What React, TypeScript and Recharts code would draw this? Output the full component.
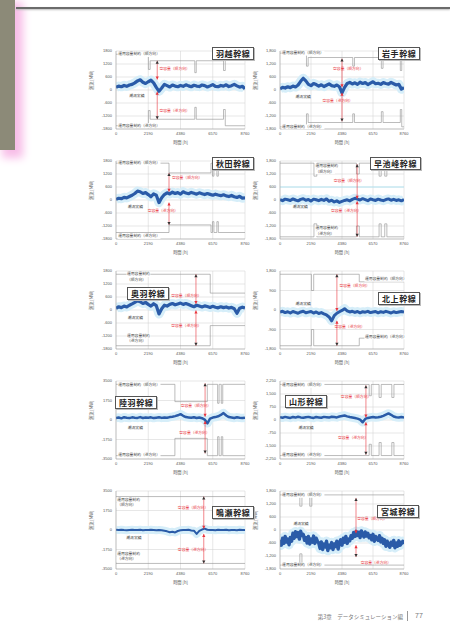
import React from 'react';
import {
  ComposedChart,
  Line,
  XAxis,
  YAxis,
  CartesianGrid,
  ReferenceLine,
  ReferenceDot,
} from 'recharts';

// Flow values are evenly spaced samples across the 8760 h year
const YEAR_HOURS = 8760;
const X_TICKS = [0, 2190, 4380, 6570, 8760];

const TICKS_1800 = [-1800, -1200, -600, 0, 600, 1200, 1800];
const TICKS_1800_WIDE = [-1800, -900, 0, 900, 1800];
const TICKS_3500 = [-3500, -1750, 0, 1750, 3500];
const TICKS_2250 = [-2250, -1500, -750, 0, 750, 1500, 2250];

const LINE_NAMES = [
  '羽越幹線',
  '岩手幹線',
  '秋田幹線',
  '早池峰幹線',
  '奥羽幹線',
  '北上幹線',
  '陸羽幹線',
  '山形幹線',
  '鳴瀬幹線',
  '宮城幹線',
];

// Power flow [MW]
const FLOW_1 = [120, 180, 150, 210, 170, 230, 260, 330, 420, 470, 360, 300, 380, 450, 330, 120, -60, 90, 260, 200, 140, 230, 180, 150, 210, 170, 240, 190, 150, 220, 180, 160, 230, 200, 140, 190, 250, 170, 150, 210, 180, 240, 160, 200, 260, 190, 130, 170, 60];
const FLOW_2 = [60, 120, 90, 150, 110, 180, 140, 230, 400, 540, 420, 260, 200, 300, 250, 180, 240, 160, 220, 280, 200, 170, 230, 150, -130, 120, 300, 350, 280, 330, 260, 360, 300, 340, 250, 320, 380, 290, 310, 260, 340, 300, 270, 350, 290, 230, 260, 40, 110];
const FLOW_3 = [30, 80, 60, 120, 100, 160, 220, 300, 410, 380, 300, 340, 250, 150, 280, 220, -120, 100, 250, 330, 280, 360, 300, 340, 270, 380, 320, 290, 350, 310, 270, 330, 290, 250, 300, 260, 220, 270, 230, 200, 240, 190, 160, 210, 150, 120, 170, 90, 100];
const FLOW_4 = [20, -30, 40, 10, -20, 50, 0, -40, 30, 60, -10, 20, -50, 40, 10, -30, 30, -20, 50, -60, -10, -90, -40, -110, -60, -20, 10, -40, 30, 80, 40, 0, 60, 20, -30, 50, 10, -20, 40, 0, -30, 20, 50, -10, 30, -20, 10, -40, 20];
const FLOW_5 = [80, 150, 110, 180, 140, 220, 280, 350, 430, 380, 300, 350, 260, 180, 290, 200, -180, 60, 220, 180, 260, 300, 240, 280, 320, 260, 300, 250, 200, 150, 220, 180, 140, 190, 160, 120, 170, 130, 100, 150, 110, 140, 90, 120, 60, -150, 80, 130, 90];
const FLOW_6 = [-90, -60, -120, -80, -140, -70, -110, -150, -90, -60, -130, -100, -70, -140, -90, -160, -120, -180, -230, -320, -500, -260, -150, -80, -20, 60, -40, -90, -60, -110, -70, -130, -80, -100, -60, -120, -90, -70, -130, -80, -110, -60, -100, -140, -80, -120, -90, -70, -100];
const FLOW_7 = [180, 220, 150, 250, 200, 170, 240, 210, 190, 260, 180, 220, 200, 240, 170, 210, 250, 190, 230, 200, 260, 300, 350, 420, 520, 380, 260, 230, 200, 250, 180, 220, 160, 40, -300, 120, 220, 260, 330, 450, 620, 400, 260, 220, 180, 240, 200, 170, 210];
const FLOW_8 = [160, 130, 180, 150, 120, 170, 140, 190, 150, 130, 160, 180, 140, 120, 170, 150, 130, 180, 160, 140, 190, 170, 150, 200, 230, 260, 210, 170, 140, 110, 80, 20, -130, 60, 120, 150, 170, 140, 160, 190, 240, 310, 380, 300, 200, 160, 140, 170, 150];
const FLOW_9 = [20, -10, 30, 0, -20, 10, 30, -10, 0, 20, -20, 10, -10, 20, 0, -30, 10, -20, -60, -120, -200, -160, -220, -90, -20, 10, -10, 20, -40, -60, -350, -80, 40, 120, 20, -10, 10, -20, 20, 0, -10, 30, -20, 10, 0, -20, 20, -10, 10];
const FLOW_10 = [
  -450, -700, -380, -620, -300, -560, -420, -680, -350, -520,
  -150, -380, -80, -300, -120, -420, -60, -260, -200, -480,
  -350, -600, -300, -650, -420, -560, -280, -620, -380, -520,
  -600, -850, -550, -900, -650, -780, -520, -950, -700, -820,
  -580, -900, -640, -760, -520, -880, -600, -450, -700, -380,
  -560, -300, -620, -420, -500, -260, -380, -120, -300, -60,
  -250, -100, -350, -40, -200, -320, -90, -280, -150, -360,
  -250, -450, -200, -520, -300, -400, -480, -260, -550, -380,
  -620, -450, -750, -520, -680, -800, -560, -700, -480, -820,
  -600, -750, -500, -700, -620, -520, -650,
];

// Operating capacity limits as [hour, MW] steps (forward / reverse)
const UPPER_1 = [[0, 1650], [2200, 950], [2320, 1350], [5350, 800], [5450, 1350], [7300, 900], [7420, 1650], [8760, 1650]];
const LOWER_1 = [[0, -1650], [2200, -950], [2320, -1350], [5350, -800], [5450, -1350], [7300, -900], [7420, -1650], [8760, -1650]];
const UPPER_2 = [[0, 1700], [1870, 1100], [1990, 1500], [5140, 1100], [5260, 1500], [7160, 1000], [7280, 1500], [8500, 900], [8600, 1700], [8760, 1700]];
const LOWER_2 = [[0, -1700], [1870, -1100], [1990, -1500], [5140, -1100], [5260, -1500], [7160, -1000], [7280, -1500], [8500, -900], [8600, -1700], [8760, -1700]];
const UPPER_3 = [[0, 1700], [3600, 1250], [6450, 1700], [6550, 1100], [6650, 1700], [6850, 1100], [6950, 1700], [8760, 1700]];
const LOWER_3 = [[0, -1500], [3600, -1150], [6450, -1500], [6550, -1000], [6650, -1500], [6850, -1000], [6950, -1500], [8760, -1500]];
const UPPER_4 = [[0, 1700], [2400, 1100], [2600, 1700], [5400, 1200], [5600, 1700], [7000, 1100], [7150, 1700], [7400, 1100], [7550, 1700], [8760, 1700]];
const LOWER_4 = [[0, -1700], [2400, -1100], [2600, -1700], [5400, -1200], [5600, -1700], [7000, -1100], [7150, -1700], [7400, -1100], [7550, -1700], [8760, -1700]];
const UPPER_5 = [[0, 1650], [6400, 780], [8760, 780]];
const LOWER_5 = [[0, -1650], [6400, -720], [8760, -720]];
const UPPER_6 = [[0, 1650], [2220, 900], [2380, 1650], [5600, 1300], [8760, 1300]];
const LOWER_6 = [[0, -1650], [2220, -900], [2380, -1650], [5600, -1300], [8760, -1300]];
const UPPER_7 = [[0, 3200], [4000, 1650], [6200, 3200], [6900, 1500], [7000, 3200], [7150, 1500], [7250, 3200], [8760, 3200]];
const LOWER_7 = [[0, -3200], [4000, -1650], [6200, -3200], [6900, -1500], [7000, -3200], [7150, -1500], [7250, -3200], [8760, -3200]];
const UPPER_8 = [[0, 2050], [6300, 1400], [6450, 2050], [7000, 1300], [7150, 2050], [7900, 1300], [8050, 2050], [8760, 2050]];
const LOWER_8 = [[0, -2050], [6300, -1400], [6450, -2050], [7000, -1300], [7150, -2050], [7900, -1300], [8050, -2050], [8760, -2050]];
const UPPER_9 = [[0, 3000], [8760, 3000]];
const LOWER_9 = [[0, -3000], [8760, -3000]];
const UPPER_10 = [[0, 1620], [1400, 1100], [1550, 1620], [2100, 1100], [2250, 1620], [8760, 1620]];
const LOWER_10 = [[0, -1620], [1400, -1100], [1550, -1620], [8760, -1620]];

// Free-capacity arrows: [hour, flow top, limit top, flow bottom, limit bottom]
const MARGIN_ARROWS = [
  [2800, 480, 1350, -80, -1350],
  [4380, 130, 1450, -130, -1450],
  [3600, 380, 1250, -120, -1150],
  [5450, 60, 1650, -60, -1700],
  [5430, 280, 1650, -20, -1650],
  [4020, -50, 1650, -500, -1650],
  [6050, 300, 3300, -100, -3000],
  [6070, 150, 2000, -130, -2000],
  [5960, 120, 3000, -350, -3000],
  [5370, -150, 1480, -700, -1250],
];

const FLOWS = [FLOW_1, FLOW_2, FLOW_3, FLOW_4, FLOW_5, FLOW_6, FLOW_7, FLOW_8, FLOW_9, FLOW_10];
const UPPERS = [UPPER_1, UPPER_2, UPPER_3, UPPER_4, UPPER_5, UPPER_6, UPPER_7, UPPER_8, UPPER_9, UPPER_10];
const LOWERS = [LOWER_1, LOWER_2, LOWER_3, LOWER_4, LOWER_5, LOWER_6, LOWER_7, LOWER_8, LOWER_9, LOWER_10];
const Y_TICKS = [TICKS_1800, TICKS_1800, TICKS_1800, TICKS_1800, TICKS_1800, TICKS_1800_WIDE, TICKS_3500, TICKS_2250, TICKS_3500, TICKS_1800];

const TXT_CAP_UP = '運用容量制約（順方向）';
const TXT_CAP_DOWN = '運用容量制約（逆方向）';
const TXT_CAP = '運用容量制約';
const TXT_DIR_UP = '（順方向）';
const TXT_DIR_DOWN = '（逆方向）';
const TXT_FREE_UP = '空容量（順方向）';
const TXT_FREE_DOWN = '空容量（逆方向）';
const TXT_FLOW = '潮流実績';
const X_TITLE = '時間 [h]';
const Y_TITLE = '潮流 [MW]';

// Page layout of each panel and where its annotations sit (data coordinates)
type Note = { up: number[]; down: number[]; flow: number[]; freeUp: number[]; freeDown: number[]; split?: boolean };
const LEFT_COL = { left: 86, width: 167 };
const RIGHT_COL = { left: 250, width: 162 };
const ROW_TOPS = [47, 157, 267, 377, 487];
const PANEL_H = 100;

const LAYOUT = [
  { col: LEFT_COL, row: 0, title: [212, 47], flowW: 3.2, commas: false },
  { col: RIGHT_COL, row: 0, title: [378, 47], flowW: 3.2, commas: true },
  { col: LEFT_COL, row: 1, title: [212, 157], flowW: 3.2, commas: false },
  { col: RIGHT_COL, row: 1, title: [370, 157], flowW: 3, commas: true },
  { col: LEFT_COL, row: 2, title: [127, 287], flowW: 3.2, commas: false },
  { col: RIGHT_COL, row: 2, title: [378, 292], flowW: 3, commas: true },
  { col: LEFT_COL, row: 3, title: [115, 396], flowW: 2.5, commas: false },
  { col: RIGHT_COL, row: 3, title: [285, 395], flowW: 2.5, commas: true },
  { col: LEFT_COL, row: 4, title: [212, 506], flowW: 2, commas: false },
  { col: RIGHT_COL, row: 4, title: [377, 505], flowW: 3.4, commas: true },
];

const NOTES: Note[] = [
  { up: [150, 1640], down: [150, -1640], flow: [900, -260], freeUp: [2950, 950], freeDown: [2950, -950] },
  { up: [150, 1700], down: [150, -1700], flow: [1100, -300], freeUp: [3750, 980], freeDown: [3000, -520] },
  { up: [150, 1700], down: [150, -1680], flow: [800, -300], freeUp: [3800, 1000], freeDown: [2150, -520] },
  { up: [2500, 1560], down: [2500, -1300], flow: [900, -300], freeUp: [3800, 870], freeDown: [3600, -520], split: true },
  { up: [750, 1640], down: [750, -1200], flow: [800, -360], freeUp: [3750, 650], freeDown: [3750, -720], split: true },
  { up: [6000, 1420], down: [6000, -1240], flow: [1100, 280], freeUp: [4200, 1100], freeDown: [3850, -800] },
  { up: [150, 3150], down: [150, -3150], flow: [800, -750], freeUp: [4400, 1250], freeDown: [4300, -1200] },
  { up: [150, 2000], down: [150, -2000], flow: [1300, -450], freeUp: [4300, 1300], freeDown: [4100, -1050] },
  { up: [80, 2700], down: [80, -2150], flow: [700, -700], freeUp: [4200, 1950], freeDown: [4200, -1750], split: true },
  { up: [150, 1600], down: [150, -1620], flow: [950, 300], freeUp: [5450, 500], freeDown: [5700, -1500] },
];

const FONT = '"Noto Sans CJK JP", "Noto Sans", sans-serif';

const textShape = (text: string, color: string, size = 3.8, boxed = false) => (p: any) => (
  <g>
    {boxed && (
      <rect x={p.cx - 0.5} y={p.cy - size * 0.65} width={text.length * size + 1} height={size * 1.3} fill="#fff" />
    )}
    <text x={p.cx} y={p.cy} fontSize={size} fill={color} dominantBaseline="middle" fontFamily={FONT}>
      {text}
    </text>
  </g>
);

const arrowHead = (dir: 'up' | 'down', color: string) => (p: any) => {
  const s = dir === 'up' ? -1 : 1;
  return <path d={`M${p.cx},${p.cy} L${p.cx - 1.6},${p.cy - s * 3} L${p.cx + 1.6},${p.cy - s * 3} Z`} fill={color} />;
};

function Panel({ idx }: { idx: number }) {
  const lay = LAYOUT[idx];
  const note = NOTES[idx];
  const ticks = Y_TICKS[idx];
  const yMin = ticks[0];
  const yMax = ticks[ticks.length - 1];
  const series = FLOWS[idx];
  const flowData = series.map((v, i) => ({ h: (i * YEAR_HOURS) / (series.length - 1), v }));
  const upper = UPPERS[idx].map(([h, v]) => ({ h, v }));
  const lower = LOWERS[idx].map(([h, v]) => ({ h, v }));
  const [ah, ft, ct, fb, cb] = MARGIN_ARROWS[idx];
  const fmt = (v: number) => (lay.commas ? v.toLocaleString('en-US') : String(v));
  const tickStyle = { fontSize: 4, fill: '#555', fontFamily: 'Liberation Sans, Arial, sans-serif' };
  const red = '#e8343c';

  return (
    <div style={{ position: 'absolute', left: lay.col.left, top: ROW_TOPS[lay.row], width: lay.col.width, height: PANEL_H }}>
      <ComposedChart width={lay.col.width} height={PANEL_H} margin={{ top: 4, right: 8, bottom: 0, left: 2 }}>
        <CartesianGrid stroke="#cfcfcf" strokeWidth={0.5} />
        <XAxis
          type="number"
          dataKey="h"
          domain={[0, YEAR_HOURS]}
          ticks={X_TICKS}
          interval={0}
          allowDataOverflow
          height={18}
          tickSize={2}
          tickMargin={1}
          tickLine={false}
          axisLine={{ stroke: '#999', strokeWidth: 0.5 }}
          tick={tickStyle}
          label={{ value: X_TITLE, position: 'insideBottom', offset: 3, fontSize: 4.2, fill: '#555', fontFamily: FONT }}
        />
        <YAxis
          type="number"
          domain={[yMin, yMax]}
          ticks={ticks}
          interval={0}
          allowDataOverflow
          width={28}
          tickSize={2}
          tickMargin={2}
          tickLine={false}
          axisLine={{ stroke: '#999', strokeWidth: 0.5 }}
          tick={tickStyle}
          tickFormatter={fmt}
          label={{ value: Y_TITLE, angle: -90, position: 'insideLeft', offset: 4, fontSize: 4.2, fill: '#555', fontFamily: FONT }}
        />
        {idx === 3 && <ReferenceLine y={600} stroke="#b4e6f4" strokeWidth={1} />}
        <Line data={flowData} dataKey="v" stroke="#d6eef9" strokeWidth={lay.flowW + 6} dot={false} isAnimationActive={false} strokeLinejoin="round" />
        <Line data={upper} dataKey="v" type="stepAfter" stroke="#8f8f8f" strokeWidth={0.6} dot={false} isAnimationActive={false} />
        <Line data={lower} dataKey="v" type="stepAfter" stroke="#8f8f8f" strokeWidth={0.6} dot={false} isAnimationActive={false} />
        <Line data={flowData} dataKey="v" stroke="#2a5ba8" strokeWidth={lay.flowW} dot={false} isAnimationActive={false} strokeLinejoin="round" />
        <ReferenceLine segment={[{ x: ah, y: ft }, { x: ah, y: ct }]} stroke={red} strokeWidth={0.6} ifOverflow="visible" />
        <ReferenceLine segment={[{ x: ah, y: fb }, { x: ah, y: cb }]} stroke={red} strokeWidth={0.6} ifOverflow="visible" />
        <ReferenceDot x={ah} y={ct} ifOverflow="visible" shape={arrowHead('up', '#333')} />
        <ReferenceDot x={ah} y={ft} ifOverflow="visible" shape={arrowHead('down', red)} />
        <ReferenceDot x={ah} y={cb} ifOverflow="visible" shape={arrowHead('down', '#333')} />
        <ReferenceDot x={ah} y={fb} ifOverflow="visible" shape={arrowHead('up', red)} />
        <ReferenceDot x={note.freeUp[0]} y={note.freeUp[1]} ifOverflow="visible" shape={textShape(TXT_FREE_UP, red)} />
        <ReferenceDot x={note.freeDown[0]} y={note.freeDown[1]} ifOverflow="visible" shape={textShape(TXT_FREE_DOWN, red)} />
        <ReferenceDot x={note.flow[0]} y={note.flow[1]} ifOverflow="visible" shape={textShape(TXT_FLOW, '#333')} />
        {note.split ? (
          <>
            <ReferenceDot x={note.up[0]} y={note.up[1]} ifOverflow="visible" shape={textShape(TXT_CAP, '#444', 3.8, true)} />
            <ReferenceDot x={note.up[0]} y={note.up[1] - (yMax - yMin) * 0.07} ifOverflow="visible" shape={textShape(TXT_DIR_UP, '#444', 3.8, true)} />
            <ReferenceDot x={note.down[0]} y={note.down[1]} ifOverflow="visible" shape={textShape(TXT_CAP, '#444', 3.8, true)} />
            <ReferenceDot x={note.down[0]} y={note.down[1] - (yMax - yMin) * 0.07} ifOverflow="visible" shape={textShape(TXT_DIR_DOWN, '#444', 3.8, true)} />
          </>
        ) : (
          <>
            <ReferenceDot x={note.up[0]} y={note.up[1]} ifOverflow="visible" shape={textShape(TXT_CAP_UP, '#444', 3.8, true)} />
            <ReferenceDot x={note.down[0]} y={note.down[1]} ifOverflow="visible" shape={textShape(TXT_CAP_DOWN, '#444', 3.8, true)} />
          </>
        )}
      </ComposedChart>
    </div>
  );
}

function TitleBox({ idx }: { idx: number }) {
  const [x, y] = LAYOUT[idx].title;
  return (
    <div
      style={{
        position: 'absolute',
        left: x,
        top: y,
        border: '1px solid #555',
        background: '#fff',
        padding: '0 3px',
        height: 11,
        lineHeight: '11px',
        fontSize: 8,
        fontWeight: 700,
        color: '#222',
        fontFamily: FONT,
        letterSpacing: 0.6,
        whiteSpace: 'nowrap',
        boxShadow: '1px 1px 0 #bbb',
      }}
    >
      {LINE_NAMES[idx]}
    </div>
  );
}

export default function App() {
  return (
    <div style={{ position: 'absolute', left: 0, top: 0, width: 450, height: 633, background: '#fff', overflow: 'hidden', fontFamily: FONT }}>
      {/* side tab */}
      <div style={{ position: 'absolute', left: 0, top: 0, width: 15, height: 150, background: '#8c8a78', boxShadow: '5px 5px 9px 3px #f8bde8' }} />
      {/* header rule */}
      <div style={{ position: 'absolute', left: 16, top: 7, width: 434, height: 1.5, background: '#6b6b6b', boxShadow: '0 1px 2px #bbb' }} />

      {LINE_NAMES.map((_, i) => (
        <Panel key={`p${i}`} idx={i} />
      ))}
      {LINE_NAMES.map((_, i) => (
        <TitleBox key={`t${i}`} idx={i} />
      ))}

      {/* footer */}
      <div style={{ position: 'absolute', left: 300, top: 613, width: 103, textAlign: 'right', fontSize: 5.5, color: '#777', whiteSpace: 'nowrap' }}>
        第3章　データシミュレーション編
      </div>
      <div style={{ position: 'absolute', left: 407, top: 611, width: 0.8, height: 10, background: '#999' }} />
      <div style={{ position: 'absolute', left: 415, top: 612, fontSize: 7, color: '#777', fontFamily: 'Liberation Sans, sans-serif' }}>77</div>
    </div>
  );
}
